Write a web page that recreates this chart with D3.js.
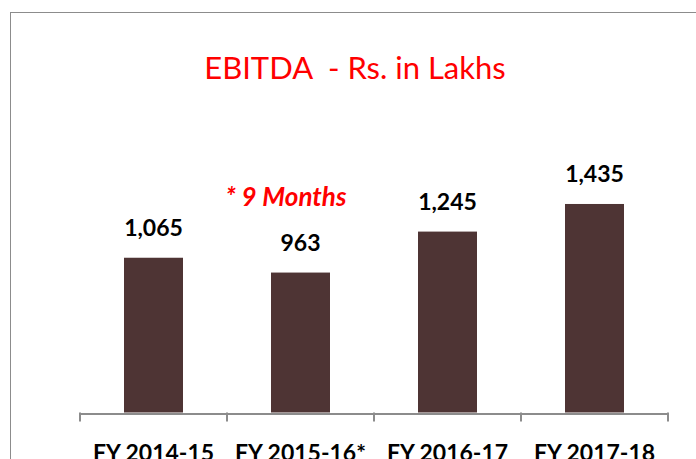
<!DOCTYPE html>
<html>
<head>
<meta charset="utf-8">
<script src="https://cdn.jsdelivr.net/npm/d3@7"></script>
<style>
	body { margin: 0; background: #ffffff; }
	svg { display: block; }
	text { font-family: Lato, "Open Sans", sans-serif; }
</style>
</head>
<body>
<div id="chart"></div>
<script>
// Data
var years = ["FY 2014-15", "FY 2015-16*", "FY 2016-17", "FY 2017-18"];
var ebitda = [1065, 963, 1245, 1435];
var valueLabels = ["1,065", "963", "1,245", "1,435"];

var width = 696,
    height = 459;

var margin = {top: 180, right: 28, bottom: 46.5, left: 80};

var svg = d3.select("#chart")
	.append("svg")
		.attr("width", width)
		.attr("height", height);

// Outer chart frame (runs past the right/bottom edge of the picture)
svg.append("rect")
	.attr("x", 10.5)
	.attr("y", 12.5)
	.attr("width", 720)
	.attr("height", 480)
	.attr("fill", "none")
	.attr("stroke", "#8c8c8c")
	.attr("stroke-width", 1);

// Scales
var xScale = d3.scaleBand()
	.domain(years)
	.range([margin.left, width - margin.right])
	.paddingInner(0)
	.paddingOuter(0);

var yScale = d3.scaleLinear()
	.domain([0, 1600])
	.range([height - margin.bottom, margin.top]);

var barWidth = 59;

// Bars
svg.selectAll(".bar")
	.data(ebitda)
	.enter()
	.append("rect")
		.attr("class", "bar")
		.attr("x", function(d, i) { return xScale(years[i]) + (xScale.bandwidth() - barWidth) / 2; })
		.attr("y", function(d) { return yScale(d); })
		.attr("width", barWidth)
		.attr("height", function(d) { return yScale(0) - yScale(d); })
		.attr("fill", "#4e3434");

// Category axis
var xAxis = d3.axisBottom(xScale)
	.tickSize(0)
	.tickFormat("");

var axisG = svg.append("g")
	.attr("transform", "translate(0," + (yScale(0) + 1) + ")")
	.call(xAxis);
axisG.select(".domain")
	.attr("stroke", "#8c8c8c")
	.attr("stroke-width", 2);

// Tick marks sit on the band edges
var edges = years.map(function(y) { return xScale(y); }).concat([xScale.range()[1]]);
svg.selectAll(".edge-tick")
	.data(edges)
	.enter()
	.append("line")
		.attr("class", "edge-tick")
		.attr("x1", function(d) { return d; })
		.attr("x2", function(d) { return d; })
		.attr("y1", yScale(0))
		.attr("y2", yScale(0) + 9)
		.attr("stroke", "#8c8c8c")
		.attr("stroke-width", 2);

// Category labels (cut by the bottom edge, as in the reference)
svg.selectAll(".cat-label")
	.data(years)
	.enter()
	.append("text")
		.attr("class", "cat-label")
		.attr("x", function(d) { return xScale(d) + xScale.bandwidth() / 2; })
		.attr("y", 461)
		.attr("text-anchor", "middle")
		.style("font-size", "23px")
		.style("font-weight", "bold")
		.style("fill", "#000000")
		.text(function(d) { return d; });

// Value labels
svg.selectAll(".val-label")
	.data(ebitda)
	.enter()
	.append("text")
		.attr("class", "val-label")
		.attr("x", function(d, i) { return xScale(years[i]) + xScale.bandwidth() / 2; })
		.attr("y", function(d) { return yScale(d) - 22; })
		.attr("text-anchor", "middle")
		.style("font-size", "23px")
		.style("font-weight", "bold")
		.style("fill", "#000000")
		.text(function(d, i) { return valueLabels[i]; });

// Title
svg.append("text")
	.attr("x", 355)
	.attr("y", 79)
	.attr("text-anchor", "middle")
	.style("font-size", "31px")
	.style("fill", "#ff0000")
	.attr("xml:space", "preserve")
	.text("EBITDA  - Rs. in Lakhs");

// Note
svg.append("text")
	.attr("x", 286)
	.attr("y", 206)
	.attr("text-anchor", "middle")
	.style("font-size", "26px")
	.style("font-weight", "bold")
	.style("font-style", "italic")
	.style("fill", "#ff0000")
	.text("* 9 Months");
</script>
</body>
</html>
